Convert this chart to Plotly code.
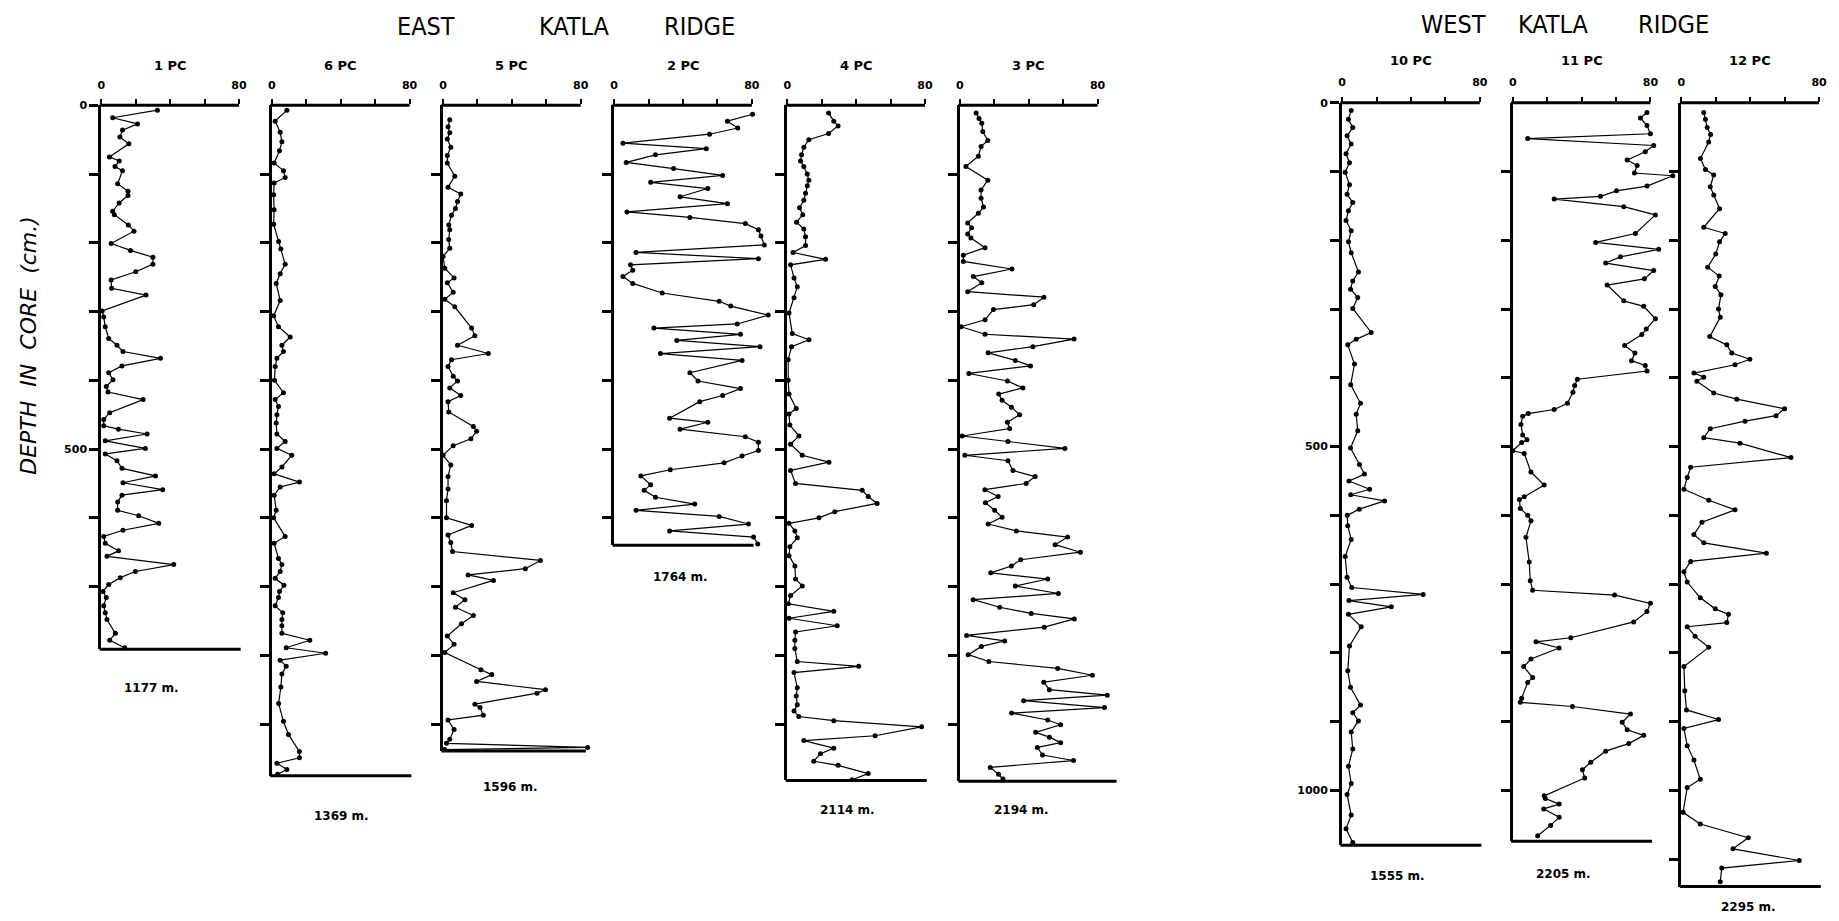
import plotly.graph_objects as go

W, H = 1839, 921

# ---------------------------------------------------------------- data
cores = ["1 PC", "6 PC", "5 PC", "2 PC", "4 PC", "3 PC", "10 PC", "11 PC", "12 PC"]
water_depth = ["1177 m.", "1369 m.", "1596 m.", "1764 m.", "2114 m.", "2194 m.",
               "1555 m.", "2205 m.", "2295 m."]
core_length_cm = [791, 975, 939, 640, 982, 983, 1080, 1074, 1140]

depth_1pc = [7, 18, 27, 36, 46, 56, 75, 81, 89, 95, 114, 125, 131, 142, 154, 159, 174, 183,
             201, 211, 221, 231, 242, 254, 266, 276, 299, 308, 322, 339, 349, 358, 368, 379,
             389, 399, 409, 417, 428, 447, 457, 466, 471, 478, 488, 499, 507, 517, 528, 539,
             549, 559, 567, 577, 589, 597, 608, 618, 627, 637, 648, 656, 668, 678, 687, 697,
             707, 716, 728, 738, 748, 768, 778, 789]
pct_1pc = [32.6, 6.6, 21, 12.3, 10.8, 16, 4.7, 10.4, 8, 12.3, 9.5, 15.5, 15.5, 10.4, 6.6, 7.6,
           15.7, 19, 5.7, 17, 30, 30, 20, 5.7, 6, 26, 0.5, 1.4, 2.3, 4.3, 9.1, 12.6, 34.4, 12,
           4.3, 6.8, 2.9, 3.9, 24.3, 4.9, 1.4, 1.4, 10, 26.6, 2.3, 25.6, 2.3, 9.1, 12, 31.5,
           12.6, 35.7, 12, 9.5, 9.5, 21.7, 33.4, 12.6, 1.4, 2.3, 10, 3.3, 42.1, 19.8, 11, 4.3,
           1, 2.9, 1.4, 2.3, 3.3, 8.2, 4.9, 13.6]

depth_6pc = [7, 23, 39, 53, 66, 84, 95, 105, 113, 130, 152, 173, 198, 209, 231, 245, 259, 284,
             306, 322, 337, 349, 358, 368, 380, 400, 418, 428, 438, 450, 462, 478, 489, 499,
             509, 526, 536, 548, 555, 567, 589, 600, 627, 637, 659, 668, 678, 688, 698, 707,
             716, 728, 738, 748, 757, 768, 778, 789, 797, 807, 816, 827, 846, 870, 896, 915,
             940, 949, 957, 966, 973]
pct_6pc = [8.7, 1.9, 4.8, 5.8, 4.4, 1.3, 6.7, 7.7, 1.3, 1, 1.3, 1, 3.9, 5.2, 7.7, 4.8, 2.5, 4.8,
           1, 3.8, 10.6, 5.8, 6.7, 2.9, 1.9, 1.5, 6.7, 1.9, 3.8, 2.9, 2.5, 2.9, 7.7, 2.9, 11.5,
           5.8, 1.3, 16, 4.8, 1.3, 2.5, 1, 7.7, 1.3, 3.8, 5.8, 4.8, 1.9, 7, 4.4, 3.8, 1.9, 6.3,
           5.8, 5.8, 5.8, 22, 8.3, 31.2, 4.8, 8.3, 5.8, 5.2, 3.9, 6.7, 9.6, 16, 16, 2.9, 8.7, 3.3]

depth_5pc = [21, 31, 40, 49, 61, 73, 84, 103, 119, 129, 140, 150, 160, 174, 181, 195, 208, 220,
             237, 251, 258, 272, 282, 293, 324, 335, 349, 361, 370, 380, 394, 401, 411, 422,
             431, 446, 467, 474, 485, 495, 509, 523, 540, 558, 575, 600, 611, 625, 636, 649,
             662, 674, 683, 691, 709, 719, 730, 742, 754, 772, 784, 796, 821, 828, 838, 850,
             855, 871, 876, 887, 894, 908, 922, 928, 934, 937]
pct_5pc = [3.9, 2.9, 3.9, 2.5, 4.5, 2.5, 2.5, 6.8, 2.9, 10.3, 8.4, 7.2, 4.9, 3.3, 3.9, 3.3, 3.9,
           0, 1, 6.4, 2.5, 5.9, 1, 6.8, 16.6, 18.5, 8.4, 26.3, 4.9, 2.9, 5.9, 8.4, 3.9, 10.3,
           2.9, 3.3, 17.6, 19.5, 16.2, 5.9, 0, 4.5, 2.9, 2.9, 2, 2, 16.6, 2.9, 4.5, 5.5, 56.6,
           47.8, 14.6, 29.3, 5.9, 12.7, 7.2, 17.6, 10.7, 2.5, 6.4, 1, 22, 28.3, 19.5, 59.5,
           54.6, 18.5, 21.5, 23.4, 2.9, 6.4, 3.9, 2, 84, 1]

depth_2pc = [13, 23, 33, 42, 55, 63, 72, 83, 92, 102, 112, 121, 133, 143, 155, 163, 172, 181,
             190, 203, 214, 223, 232, 240, 249, 259, 273, 285, 292, 305, 318, 324, 333, 342,
             351, 361, 371, 389, 401, 412, 422, 431, 455, 461, 471, 482, 490, 502, 510, 520,
             530, 539, 552, 560, 570, 580, 589, 598, 609, 619, 628, 638]
pct_2pc = [80.4, 65.8, 71.8, 55.4, 5.1, 53.5, 24, 7, 34.5, 63, 21.2, 54.4, 38.3, 65.8, 7.4, 44,
           76.2, 83.8, 85.3, 87.2, 12.7, 83.8, 9.5, 10.8, 5.1, 10.8, 27.9, 61, 67.7, 89.5, 71.5,
           23.1, 73.4, 36.4, 84.7, 26.9, 74.3, 44, 48.7, 73.4, 63, 49.7, 32.2, 54.4, 38.3, 76.2,
           83.8, 83.8, 74.3, 63.9, 32.6, 15.5, 21.2, 17.4, 24, 46.8, 12.7, 61, 78, 32.2, 81, 83.4]

depth_4pc = [11, 23, 30, 41, 50, 61, 72, 81, 89, 100, 109, 117, 128, 138, 149, 159, 170, 180,
             191, 204, 214, 224, 232, 251, 264, 280, 302, 332, 341, 351, 370, 400, 420, 441,
             449, 465, 481, 493, 509, 519, 531, 550, 560, 569, 579, 591, 600, 608, 619, 629,
             642, 655, 670, 689, 699, 713, 725, 736, 746, 757, 766, 778, 790, 809, 816, 825,
             847, 859, 872, 881, 889, 895, 904, 917, 924, 935, 943, 954, 960, 972, 981]
pct_4pc = [24, 27, 29.5, 24, 12.5, 9.6, 8.3, 7.7, 9.6, 11.6, 12.5, 11.6, 10.6, 9.6, 7.1, 9, 5.4,
           9.6, 10.6, 10.6, 3.3, 22.2, 1.9, 3.9, 5.8, 3.9, 1, 2.9, 12.6, 2.5, 0.5, 0.5, 1, 5.2,
           1, 1.5, 6.8, 1.9, 8.7, 24.2, 1.9, 4.8, 43.5, 47, 52.2, 27.6, 18.4, 1, 4.4, 5.8, 1.5,
           1, 4.4, 4.8, 8.7, 1.9, 0.6, 27, 1, 29, 4.8, 4.4, 4.4, 5.8, 41.5, 3.9, 5.8, 5.2, 5.8,
           3.9, 6.7, 27, 78, 51, 9.6, 27, 19.3, 15.4, 29.5, 47, 37.6]

depth_3pc = [11, 19, 26, 38, 51, 60, 74, 89, 109, 123, 135, 148, 157, 171, 178, 187, 193, 207,
             218, 227, 238, 249, 258, 271, 279, 290, 297, 312, 322, 333, 340, 351, 360, 371,
             379, 390, 401, 411, 420, 429, 439, 450, 461, 470, 481, 489, 499, 509, 517, 531,
             540, 550, 559, 569, 578, 589, 599, 609, 619, 628, 639, 650, 661, 670, 680, 689,
             699, 710, 719, 730, 739, 747, 759, 771, 779, 787, 799, 809, 819, 829, 839, 850,
             858, 866, 876, 884, 894, 901, 912, 919, 927, 934, 945, 953, 963, 973, 980]
pct_3pc = [9.4, 11.1, 12.7, 13.3, 16.2, 12.3, 10.7, 3.5, 16.2, 12.3, 12.3, 13.7, 10.7, 4.5, 6.8,
           4.5, 6.4, 14.6, 2, 2, 30.2, 7.8, 12.7, 4.5, 48.8, 42.9, 19.5, 14.6, 0.6, 14.6, 66.3,
           42.4, 16.4, 32.2, 41, 5.2, 27.6, 36.6, 22.5, 24.5, 29.9, 34.7, 27.6, 28.9, 1.3, 27.9,
           61, 2.9, 27.9, 30.8, 43.7, 38.5, 14.5, 22.2, 14.8, 20.2, 24.5, 16.4, 32.8, 62.6,
           55.3, 70, 35.3, 29.9, 17.9, 51, 32.2, 57.2, 7.7, 23.1, 41.4, 66.5, 49, 3.9, 26, 12.5,
           4.8, 16.8, 56.8, 77, 48.7, 52, 85.6, 37, 84, 30, 51, 58.5, 44, 52, 58.5, 45, 48, 66,
           17.6, 22.4, 25]

depth_10pc = [11, 24, 36, 48, 60, 74, 87, 101, 119, 133, 145, 157, 171, 186, 202, 218, 246,
              259, 271, 283, 299, 334, 344, 352, 380, 410, 437, 453, 477, 502, 526, 540, 550,
              562, 570, 579, 591, 600, 615, 635, 660, 690, 705, 715, 724, 733, 744, 762, 790,
              826, 850, 876, 887, 899, 915, 940, 965, 990, 1006, 1036, 1056, 1076]
pct_10pc = [5.3, 3.7, 6.2, 2.9, 5.3, 2.3, 4.3, 1.8, 4.3, 2.9, 6.2, 3.7, 2.3, 5.3, 3.7, 5.3, 9.5,
            6.2, 4.9, 9.1, 6.2, 16.9, 8.2, 3.3, 7.2, 5, 10.7, 8.2, 9.1, 4.9, 10.1, 13, 4, 16, 5,
            24.7, 10, 3, 3.3, 5.3, 1.8, 2.9, 5.6, 47.1, 4, 28.6, 3.7, 11.1, 4.3, 3.3, 4.9, 10.7,
            6.2, 9.5, 5.3, 6.2, 3.7, 5.3, 2.9, 5.3, 2.3, 6.2]

depth_11pc = [14, 22, 33, 45, 52, 62, 71, 83, 91, 102, 106, 121, 128, 136, 140, 151, 163, 190,
              203, 213, 224, 233, 244, 256, 265, 288, 296, 314, 329, 337, 353, 364, 375, 382,
              390, 402, 411, 421, 437, 446, 452, 456, 468, 483, 490, 494, 506, 510, 537, 556,
              573, 577, 590, 600, 608, 632, 668, 695, 709, 716, 728, 740, 755, 778, 784, 793,
              809, 820, 836, 843, 866, 872, 878, 889, 901, 912, 920, 932, 943, 959, 970, 982,
              1008, 1012, 1020, 1027, 1039, 1051, 1066]
pct_11pc = [78, 74.2, 78, 80, 8.7, 81.9, 77, 66.5, 72.3, 70.7, 93, 78, 60.3, 51, 24.1, 64.5,
            82.9, 71.3, 48.2, 84.8, 62.6, 54, 81.9, 76.5, 54.9, 64.5, 76.1, 82.9, 77.6, 75, 65,
            71, 69, 77, 78, 37.6, 36, 35, 31.8, 24.1, 9, 5.8, 4.8, 5.8, 8.3, 5.2, 0, 6.7, 10.6,
            18.3, 6.7, 3.9, 4.4, 8.7, 10.6, 7.7, 9.6, 10.2, 11.6, 59.2, 80, 78, 70.3, 33.7, 13.5,
            27, 10.6, 6.4, 11.6, 8.7, 5.2, 4.4, 34.7, 68.4, 63.6, 66.5, 76.1, 67.4, 54, 45.3,
            40.5, 41.8, 18.3, 19, 27, 18, 27, 22, 14.5]

depth_12pc = [14, 24, 36, 46, 57, 81, 97, 105, 122, 134, 154, 181, 190, 202, 220, 239, 252,
              267, 279, 300, 312, 340, 352, 364, 373, 381, 393, 399, 405, 422, 431, 445, 455,
              463, 474, 487, 495, 516, 530, 545, 562, 578, 592, 610, 628, 640, 655, 667, 682,
              697, 720, 736, 744, 756, 762, 776, 792, 820, 855, 883, 897, 910, 935, 956, 984,
              996, 1032, 1049, 1069, 1085, 1102, 1113, 1133]
pct_12pc = [13, 14, 15, 17, 15.9, 11.1, 14, 18.8, 16.8, 18.8, 22.2, 13, 25.5, 22.2, 20, 15.3, 22,
            19.7, 23, 21.6, 22.6, 16.5, 26.4, 29.3, 39.8, 31.2, 7.3, 13, 9, 18.8, 32.2, 60, 55,
            37, 16.8, 13, 34, 63.7, 5.4, 3.4, 1.5, 15.9, 31.2, 12, 7.3, 13, 49.4, 5.4, 1.5, 3.4,
            11, 19.7, 27.4, 26.4, 3.4, 8, 15.9, 1.5, 2, 3, 21.6, 1.5, 3.4, 7.3, 11, 3.4, 1, 11,
            38.9, 30, 68.5, 23.5, 22.6]

depths = [depth_1pc, depth_6pc, depth_5pc, depth_2pc, depth_4pc, depth_3pc,
          depth_10pc, depth_11pc, depth_12pc]
percents = [pct_1pc, pct_6pc, pct_5pc, pct_2pc, pct_4pc, pct_3pc,
            pct_10pc, pct_11pc, pct_12pc]

# ---------------------------------------------------------------- layout (pixels)
axis_left_px = [97.5, 268.5, 440, 611.5, 785, 958, 1341, 1512, 1681]
axis_top_px = [100, 100, 100, 100, 100, 100, 97.5, 97.5, 97.5]
x_room = [96, 96, 96, 96, 96, 96, 96, 96, 91]      # axis range beyond the 80 mark
base_line_end = [81, 81, 83, 81, 81, 91, 81, 81, 81]
labelled_depths = [[0, 500], [], [], [], [], [], [0, 500, 1000], [], []]
water_label_px = [(148, 686), (338, 815), (508, 786), (678, 575), (845, 809),
                  (1020, 809), (1397, 876), (1563, 874), (1748, 907)]
PX_PER_CM = 0.692
SCALE_PX = 138.0      # width of the 0-80 scale
FONT = "DejaVu Sans"
HEAD_FONT = "DejaVu Sans Condensed, Liberation Sans Narrow, DejaVu Sans"


def px(x):
    return x / W


def py(y):
    return 1 - y / H


fig = go.Figure()
annotations = []
shapes = []

for i, name in enumerate(cores):
    n = i + 1
    xa = "x" if n == 1 else f"x{n}"
    ya = "y" if n == 1 else f"y{n}"
    L = core_length_cm[i]
    xmax = x_room[i]

    fig.add_trace(go.Scatter(
        x=percents[i], y=depths[i], xaxis=xa, yaxis=ya,
        mode="lines+markers",
        line=dict(color="black", width=1.2),
        marker=dict(color="black", size=5),
        showlegend=False, hoverinfo="skip", cliponaxis=False,
    ))

    left = axis_left_px[i]
    right = left + SCALE_PX * xmax / 80
    top = axis_top_px[i]
    bottom = top + L * PX_PER_CM

    xkey = "xaxis" if n == 1 else f"xaxis{n}"
    ykey = "yaxis" if n == 1 else f"yaxis{n}"

    fig.layout[xkey] = dict(
        domain=[px(left), px(right)], range=[0, xmax], side="top", anchor=ya,
        showline=False, showgrid=False, zeroline=False,
        tickvals=[0, 20, 40, 60, 80], ticktext=["0", "", "", "", "80"],
        ticks="outside", ticklen=5, tickwidth=2, tickcolor="black",
        ticklabelstandoff=6,
        tickfont=dict(family=FONT, size=11, color="black", weight="bold"),
        fixedrange=True,
    )

    labels = labelled_depths[i]
    tv = sorted(set([d for d in range(100, L, 100)] + labels))
    tt = [str(d) if d in labels else "" for d in tv]
    fig.layout[ykey] = dict(
        domain=[py(bottom), py(top)], range=[L, 0], anchor=xa,
        showline=True, linewidth=3, linecolor="black",
        showgrid=False, zeroline=False,
        tickvals=tv, ticktext=tt, showticklabels=bool(labels),
        ticks="outside", ticklen=9, tickwidth=2.5, tickcolor="black",
        tickfont=dict(family=FONT, size=11, color="black", weight="bold"),
        fixedrange=True,
    )

    # frame: top scale line and core base line
    shapes.append(dict(type="line", xref=f"{xa} domain", yref=f"{ya} domain",
                       x0=-0.01, x1=80 / xmax, y0=1, y1=1,
                       line=dict(color="black", width=3)))
    shapes.append(dict(type="line", xref=f"{xa} domain", yref=f"{ya} domain",
                       x0=-0.01, x1=base_line_end[i] / xmax, y0=0, y1=0,
                       line=dict(color="black", width=3)))

    annotations.append(dict(text=name, xref=xa, x=40, xanchor="center",
                            yref="paper", y=py(60 if n <= 6 else 55), yanchor="middle",
                            showarrow=False,
                            font=dict(family=FONT, size=13, color="black", weight="bold")))
    lx, ly = water_label_px[i]
    annotations.append(dict(text=water_depth[i], xref="paper", x=px(lx), xanchor="center",
                            yref="paper", y=py(ly), yanchor="middle", showarrow=False,
                            font=dict(family=FONT, size=12, color="black", weight="bold")))

# region headings
for word, cx, cy in [("EAST", 423, 21), ("KATLA", 572, 21), ("RIDGE", 697, 21),
                     ("WEST", 1453, 19), ("KATLA", 1553, 19), ("RIDGE", 1673, 19)]:
    annotations.append(dict(text=word, xref="paper", x=px(cx), xanchor="center",
                            yref="paper", y=py(cy), yanchor="middle", showarrow=False,
                            font=dict(family=HEAD_FONT, size=25, color="black")))

annotations.append(dict(text="<i>DEPTH  IN  CORE  (cm.)</i>", xref="paper", x=px(25),
                        xanchor="center", yref="paper", y=py(341), yanchor="middle",
                        textangle=-90, showarrow=False,
                        font=dict(family=FONT, size=22, color="black")))

fig.update_layout(
    width=W, height=H, margin=dict(l=0, r=0, t=0, b=0),
    paper_bgcolor="white", plot_bgcolor="rgba(0,0,0,0)",
    annotations=annotations, shapes=shapes, showlegend=False,
)

fig.write_html("out.html")
